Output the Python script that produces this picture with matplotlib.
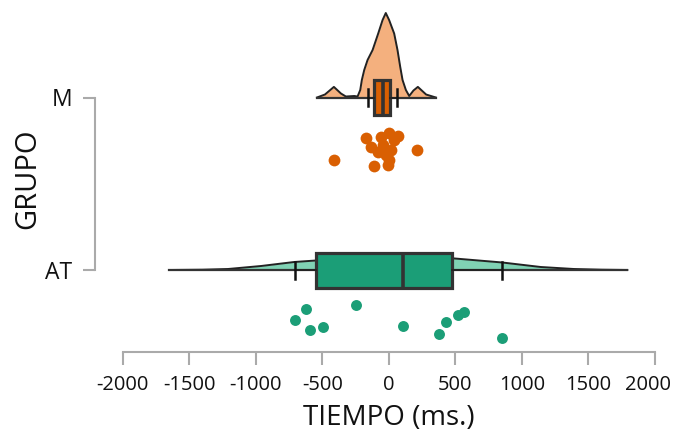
import numpy as np
import matplotlib.pyplot as plt

plt.rcParams['font.family'] = ['Open Sans', 'DejaVu Sans']
plt.rcParams['axes.unicode_minus'] = False

groups = ['AT', 'M']
colors = ['#1b9e77', '#d95f02']
light = ['#80d2b4', '#f4b07e']
xticks = [-2000, -1500, -1000, -500, 0, 500, 1000, 1500, 2000]

# density curves (ms, relative height)
dens_x_at = [-1650, -1400, -1208, -960, -711, -548, -300, 0, 300, 478, 853, 1141, 1390, 1600, 1792]
dens_y_at = [0, 0.3, 1, 4, 8, 9.5, 12, 13.5, 13, 11.7, 7.5, 3, 1, 0.3, 0]
dens_x_m = [-540, -480, -413, -360, -323, -260, -235, -215, -203, -185, -160, -122, -80, -47,
            -23, 2, 40, 65, 85, 103, 128, 153, 185, 218, 280, 353]
dens_y_m = [0, 3, 10.6, 4, 1, 1.5, 1, 7.5, 17.5, 27.5, 37.5, 47.5, 64, 77.5,
            84.5, 77.5, 64, 47.5, 31, 17.5, 7.5, 1.5, 7, 10.6, 3, 0]

# box stats
q1 = [-548, -115]
med = [103, -45]
q3 = [478, 8]
wlo = [-707, -160]
whi = [853, 65]

# raw points and jitter
pts_at = [-705, -623, -593, -498, -248, 103, 377, 433, 516, 561, 853]
jit_at = [0.290, 0.228, 0.348, 0.332, 0.203, 0.323, 0.371, 0.300, 0.261, 0.242, 0.396]
pts_m = [-415, 215, -110, -10, -169, -135, -60, 2, 70, -47, 15, -23, -85, 2, 40]
jit_m = [0.362, 0.304, 0.397, 0.391, 0.237, 0.285, 0.227, 0.208, 0.223, 0.275, 0.304,
         0.333, 0.314, 0.362, 0.246]

fig = plt.figure(figsize=(6.73, 4.41), dpi=100)
ax = fig.add_axes([122.7 / 673, (441 - 352.3) / 441, (655 - 122.7) / 673, (352.3 - 5) / 441])

scale = 1 / 172.5
dens = [(dens_x_at, dens_y_at), (dens_x_m, dens_y_m)]
for i, (dx, dy) in enumerate(dens):
    dy = np.array(dy) * scale
    ax.fill_between(dx, i, i + dy, color=light[i], lw=0, zorder=1)
    ax.plot(dx, i + dy, color='#222222', lw=1.4, zorder=2)
    ax.plot([dx[0], dx[-1]], [i, i], color='#333333', lw=1.6, zorder=2)

stats = [dict(q1=q1[i], med=med[i], q3=q3[i], whislo=wlo[i], whishi=whi[i], fliers=[])
         for i in range(2)]
bp = ax.bxp(stats, positions=[0, 1], widths=35 * scale, capwidths=17 * scale, vert=False,
            patch_artist=True, manage_ticks=False,
            boxprops=dict(edgecolor='#333333', lw=2.3),
            medianprops=dict(color='#333333', lw=2.6),
            whiskerprops=dict(color='#222222', lw=1.3),
            capprops=dict(color='#111111', lw=1.8))
for patch, c in zip(bp['boxes'], colors):
    patch.set_facecolor(c)
for art in bp['boxes'] + bp['medians'] + bp['whiskers'] + bp['caps']:
    art.set_zorder(3)

ax.scatter(pts_at, -np.array(jit_at), s=62, color=colors[0], lw=0, zorder=4)
ax.scatter(pts_m, 1 - np.array(jit_m), s=72, color=colors[1], lw=0, zorder=4)

ax.set_xlim(-2000, 2000)
ax.set_ylim((270 - 352.3) * scale, (270 - 5) * scale)
ax.set_xticks(xticks)
# last label sits against the figure edge, so draw it shifted a little to the left
ax.set_xticklabels([str(t) for t in xticks[:-1]] + [''])
ax.annotate(str(xticks[-1]), xy=(xticks[-1], 0), xycoords=('data', 'axes fraction'),
            xytext=(11.5, -16.5), textcoords='offset points', ha='right', va='top',
            fontsize=14.5, color='#111111', annotation_clip=False)
ax.set_yticks([0, 1])
ax.set_yticklabels(groups)

for s in ['top', 'right']:
    ax.spines[s].set_visible(False)
ax.spines['left'].set_position(('outward', 20))
ax.spines['left'].set_bounds(0, 1)
for s in ['left', 'bottom']:
    ax.spines[s].set_color('#aaaaaa')
    ax.spines[s].set_linewidth(1.5)
ax.tick_params(axis='x', colors='#aaaaaa', length=9, width=1.5, labelcolor='#111111',
               labelsize=14.5, pad=7.5)
ax.tick_params(axis='y', colors='#aaaaaa', length=8.5, width=1.5, labelcolor='#111111',
               labelsize=16.5, pad=8)

ax.set_xlabel('TIEMPO (ms.)', fontsize=20, color='#111111', labelpad=6)
ax.set_ylabel('GRUPO', fontsize=21, color='#111111', labelpad=2)

fig.savefig('out.png', dpi=100)
